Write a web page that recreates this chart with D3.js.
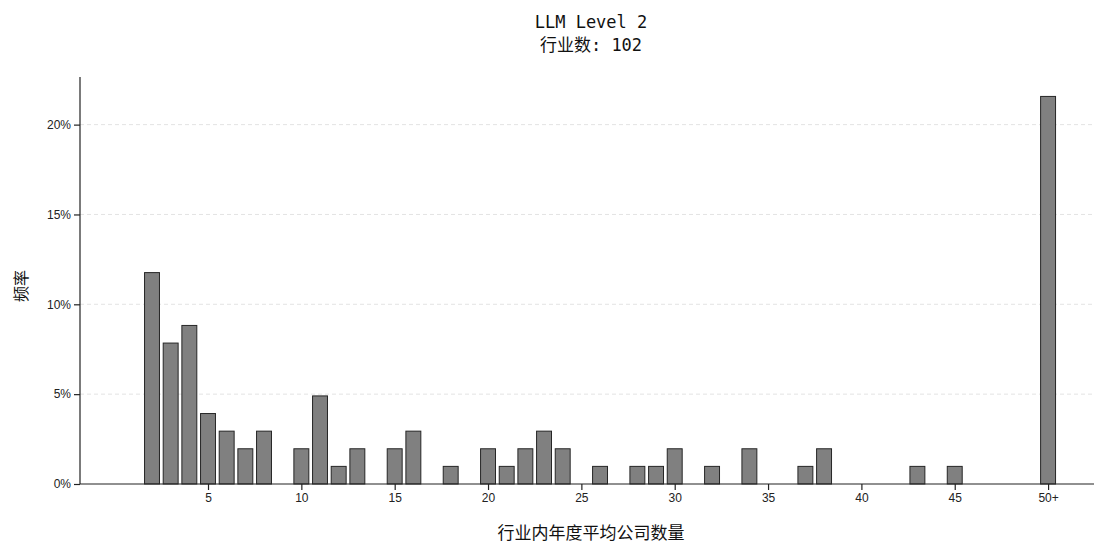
<!DOCTYPE html>
<html>
<head>
<meta charset="utf-8">
<script src="https://cdn.jsdelivr.net/npm/d3@7"></script>
<style>
  html, body { margin: 0; padding: 0; background: #fff; }
  svg { display: block; }
  .tick text { font-family: "Liberation Sans Narrow", "Liberation Sans", "Noto Sans CJK SC", sans-serif; font-size: 12px; fill: #222; }
</style>
</head>
<body>
<svg id="chart" width="1094" height="545"></svg>
<script>
// Average number of firms per industry-year, bucketed (50+ collects the tail)
const bins = [2, 3, 4, 5, 6, 7, 8, 10, 11, 12, 13, 15, 16, 18, 20, 21, 22, 23, 24, 26, 28, 29, 30, 32, 34, 37, 38, 43, 45, 50];
const counts = [12, 8, 9, 4, 3, 2, 3, 2, 5, 1, 2, 2, 3, 1, 2, 1, 2, 3, 2, 1, 1, 1, 2, 1, 2, 1, 2, 1, 1, 22];
const industryTotal = 102;
const xTickValues = [5, 10, 15, 20, 25, 30, 35, 40, 45, 50];
const xTickLabels = ["5", "10", "15", "20", "25", "30", "35", "40", "45", "50+"];
const yTickValues = [0, 5, 10, 15, 20];
const titleLines = ["LLM Level 2", "行业数: 102"];
const xLabel = "行业内年度平均公司数量";
const yLabel = "频率";

const svg = d3.select("#chart");
const plotLeft = 80, plotRight = 1094, plotBottom = 484, plotTop = 77;

const x = d3.scaleLinear().domain([-1.857, 52.46]).range([plotLeft, plotRight]);
const y = d3.scaleLinear().domain([0, 22.65]).range([plotBottom, plotTop]);
const barW = (x(1) - x(0)) * 0.8;

const data = bins.map((b, i) => ({ bin: b, pct: counts[i] / industryTotal * 100 }));

// dashed horizontal gridlines
svg.append("g").selectAll("line")
  .data(yTickValues.filter(v => v > 0))
  .join("line")
  .attr("x1", plotLeft).attr("x2", plotRight)
  .attr("y1", d => y(d)).attr("y2", d => y(d))
  .attr("stroke", "#dcdcdc").attr("stroke-width", 0.8)
  .attr("stroke-dasharray", "4,3");

// bars
svg.append("g").selectAll("rect")
  .data(data)
  .join("rect")
  .attr("x", d => x(d.bin) - barW / 2)
  .attr("width", barW)
  .attr("y", d => y(d.pct))
  .attr("height", d => y(0) - y(d.pct))
  .attr("fill", "#808080")
  .attr("stroke", "#262626")
  .attr("stroke-width", 1);

// axes
const xAxis = svg.append("g")
  .attr("transform", `translate(0,${plotBottom})`)
  .call(d3.axisBottom(x).tickValues(xTickValues)
    .tickFormat((d, i) => xTickLabels[i]).tickSize(6).tickPadding(3));
const yAxis = svg.append("g")
  .attr("transform", `translate(${plotLeft},0)`)
  .call(d3.axisLeft(y).tickValues(yTickValues)
    .tickFormat(d => d + "%").tickSize(6).tickPadding(3));

[xAxis, yAxis].forEach(g => {
  g.select(".domain").attr("stroke", "#222").attr("stroke-width", 1.2);
  g.selectAll(".tick line").attr("stroke", "#222").attr("stroke-width", 1.2);
});
xAxis.select(".domain").attr("d", `M${plotLeft},0H${plotRight}`);
yAxis.select(".domain").attr("d", `M0,${plotBottom}V${plotTop}`);

// title
const title = svg.append("text")
  .attr("text-anchor", "middle")
  .attr("font-family", "'DejaVu Sans Mono', 'Noto Sans CJK SC', monospace")
  .attr("font-size", 17)
  .attr("fill", "#111");
titleLines.forEach((t, i) => {
  title.append("tspan").attr("x", 591).attr("y", 28 + i * 23).text(t);
});

// axis labels
svg.append("text")
  .attr("x", 591).attr("y", 539)
  .attr("text-anchor", "middle")
  .attr("font-family", "'Noto Sans CJK SC', sans-serif")
  .attr("font-size", 17)
  .attr("fill", "#111")
  .text(xLabel);

svg.append("text")
  .attr("transform", "translate(27,286) rotate(-90)")
  .attr("text-anchor", "middle")
  .attr("font-family", "'Noto Sans CJK SC', sans-serif")
  .attr("font-size", 16)
  .attr("fill", "#111")
  .text(yLabel);
</script>
</body>
</html>
